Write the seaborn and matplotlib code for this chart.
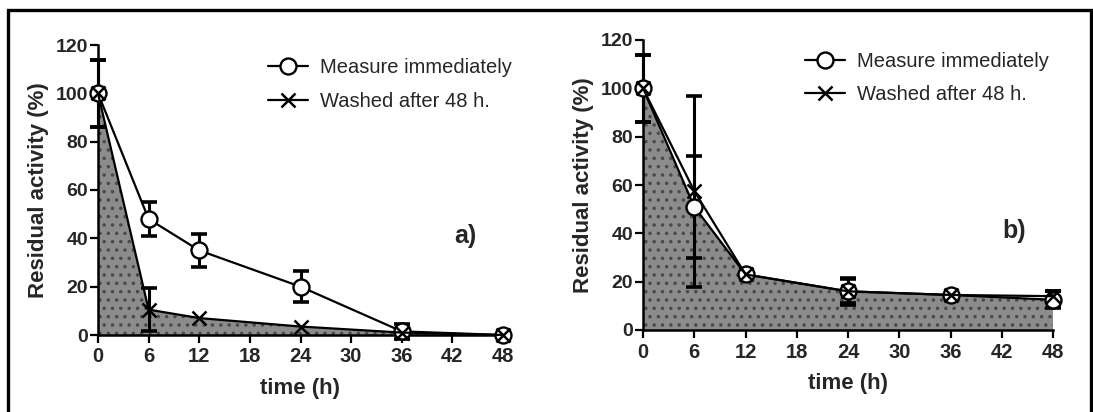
import numpy as np
import pandas as pd
import matplotlib
matplotlib.use("Agg")
import matplotlib.pyplot as plt
from matplotlib.patches import Rectangle
import seaborn as sns

# ---- data ----
time_h = [0, 6, 12, 24, 36, 48]

imm_a = [100, 48, 35, 20, 1.5, 0]
imm_a_err = [14, 7, 7, 6.5, 3, 0]
wash_a = [100, 10.5, 7, 3.5, 1, 0]
wash_a_err = [14, 9, 0, 0, 0, 0]

imm_b = [100, 51, 23, 16, 14.5, 12.5]
imm_b_err = [14, 21, 0, 5.5, 0, 3.5]
wash_b = [100, 57.5, 23, 16, 14.5, 14]
wash_b_err = [14, 39.5, 0, 5, 0, 2]

series_labels = ["Measure immediately", "Washed after 48 h."]
x_ticks = [0, 6, 12, 18, 24, 30, 36, 42, 48]
y_ticks = [0, 20, 40, 60, 80, 100, 120]

sns.set_theme(style="ticks")
plt.rcParams['font.family'] = ['Liberation Sans', 'DejaVu Sans']
plt.rcParams['hatch.linewidth'] = 1.3

fig = plt.figure(figsize=(10.93, 4.12), dpi=100)
W, H = 1093, 412

def px_axes(l, r, t, b):
    return fig.add_axes([l / W, (H - b) / H, (r - l) / W, (b - t) / H])

ax_a = px_axes(98, 503, 45, 335)
ax_b = px_axes(643, 1053, 40, 330)

def draw(ax, imm, imm_err, wash, wash_err, fill_vals, tag, leg_anchor):
    df = pd.DataFrame({"t": time_h, "imm": imm, "wash": wash})
    ax.fill_between(df["t"], 0, fill_vals, facecolor="#8c8c8c", edgecolor="#4a4a4a",
                    hatch="..", linewidth=0, zorder=1)
    sns.lineplot(data=df, x="t", y="imm", ax=ax, color="black", lw=1.6,
                 marker="o", markersize=11.5, markerfacecolor="white",
                 markeredgecolor="black", markeredgewidth=1.7, zorder=4,
                 label=series_labels[0], clip_on=False)
    sns.lineplot(data=df, x="t", y="wash", ax=ax, color="black", lw=1.6,
                 marker="x", markersize=10, markeredgecolor="black",
                 markeredgewidth=1.8, zorder=5, label=series_labels[1], clip_on=False)
    for vals, errs in ((imm, imm_err), (wash, wash_err)):
        t_e = [t for t, e in zip(time_h, errs) if e > 0]
        v_e = [v for v, e in zip(vals, errs) if e > 0]
        e_e = [e for e in errs if e > 0]
        ax.errorbar(t_e, v_e, yerr=e_e, fmt="none", ecolor="black", elinewidth=2.2,
                    capsize=5.5, capthick=2.6, zorder=3, clip_on=False)
    ax.set_xlim(0, 48)
    ax.set_ylim(0, 120)
    ax.set_xticks(x_ticks)
    ax.set_yticks(y_ticks)
    ax.set_xticklabels([str(v) for v in x_ticks], fontsize=14.5, fontweight="bold")
    ax.set_yticklabels([str(v) for v in y_ticks], fontsize=14, fontweight="bold")
    ax.tick_params(axis="both", direction="out", length=6, width=1.6, color="black", pad=3)
    ax.tick_params(axis="y", pad=1)
    for s in ("left", "bottom"):
        ax.spines[s].set_linewidth(1.8)
        ax.spines[s].set_color("black")
    sns.despine(ax=ax)
    ax.set_xlabel("time (h)", fontsize=16, fontweight="bold", labelpad=8)
    ax.set_ylabel("Residual activity (%)", fontsize=16, fontweight="bold", labelpad=5)
    ax.text(43.5, 41, tag, fontsize=18, fontweight="bold", ha="center", va="center")
    leg = ax.legend(loc="upper left", bbox_to_anchor=leg_anchor, frameon=False,
                    fontsize=14.5, handlelength=2.0, handletextpad=0.6,
                    labelspacing=0.72, borderpad=0, borderaxespad=0)
    for h in leg.legend_handles:
        h.set_linewidth(1.6)

draw(ax_a, imm_a, imm_a_err, wash_a, wash_a_err, wash_a, "a)", (0.42, 0.955))
draw(ax_b, imm_b, imm_b_err, wash_b, wash_b_err, imm_b, "b)", (0.395, 0.96))

fig.add_artist(Rectangle((8 / W, -0.05), (1091 - 8) / W, (H - 10) / H + 0.05,
                         transform=fig.transFigure, fill=False, edgecolor="black",
                         linewidth=2.4, clip_on=False))

fig.savefig("out.png", dpi=100)
